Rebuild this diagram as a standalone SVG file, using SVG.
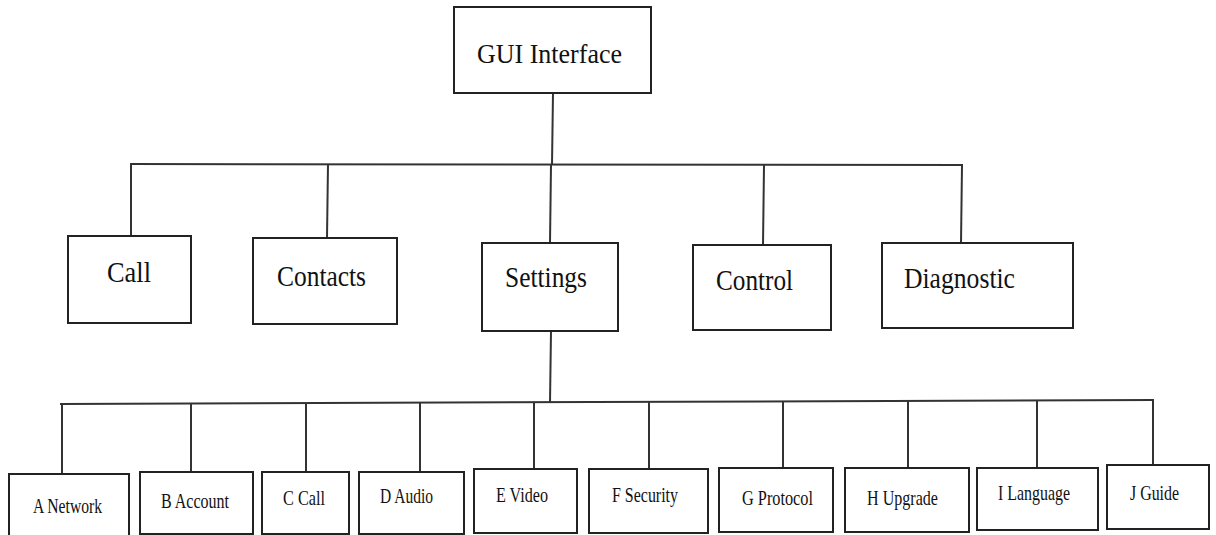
<svg xmlns="http://www.w3.org/2000/svg" width="1216" height="535" viewBox="0 0 1216 535">
<style>
.box{fill:#fff;stroke:#222;stroke-width:2}
.ln{stroke:#333;stroke-width:2;fill:none}
text{font-family:"Liberation Serif","Times New Roman",serif;fill:#111}
.t1{font-size:27px}
.t2{font-size:30px}
.t3{font-size:21px}
</style>
<rect width="1216" height="535" fill="#fff"/>
<g id="connectors">
<line class="ln" x1="553" y1="93" x2="552" y2="165"/>
<line class="ln" x1="130" y1="164" x2="963" y2="165"/>
<line class="ln" x1="131" y1="164" x2="131" y2="236"/>
<line class="ln" x1="328" y1="164" x2="327" y2="238"/>
<line class="ln" x1="551" y1="165" x2="550" y2="243"/>
<line class="ln" x1="764" y1="165" x2="763" y2="245"/>
<line class="ln" x1="962" y1="165" x2="961" y2="243"/>
<line class="ln" x1="551" y1="331" x2="550" y2="403"/>
<line class="ln" x1="60" y1="404" x2="1154" y2="400"/>
<line class="ln" x1="62" y1="404" x2="62" y2="474"/>
<line class="ln" x1="191" y1="404" x2="191" y2="472"/>
<line class="ln" x1="306" y1="403" x2="306" y2="472"/>
<line class="ln" x1="420" y1="403" x2="420" y2="472"/>
<line class="ln" x1="534" y1="402" x2="534" y2="469"/>
<line class="ln" x1="649" y1="402" x2="649" y2="469"/>
<line class="ln" x1="783" y1="401" x2="783" y2="468"/>
<line class="ln" x1="908" y1="401" x2="908" y2="468"/>
<line class="ln" x1="1037" y1="400" x2="1037" y2="468"/>
<line class="ln" x1="1153" y1="400" x2="1153" y2="465"/>
</g>
<g id="gui"><rect class="box" x="454" y="7" width="197" height="86"/><text class="t1" x="477" y="63" textLength="145" lengthAdjust="spacingAndGlyphs">GUI Interface</text></g>
<g id="call"><rect class="box" x="68" y="236" width="123" height="87"/><text class="t2" x="107" y="282" textLength="44" lengthAdjust="spacingAndGlyphs">Call</text></g>
<g id="contacts"><rect class="box" x="253" y="238" width="144" height="86"/><text class="t2" x="277" y="286" textLength="89" lengthAdjust="spacingAndGlyphs">Contacts</text></g>
<g id="settings"><rect class="box" x="482" y="243" width="136" height="88"/><text class="t2" x="505" y="287" textLength="82" lengthAdjust="spacingAndGlyphs">Settings</text></g>
<g id="control"><rect class="box" x="693" y="245" width="138" height="85"/><text class="t2" x="716" y="290" textLength="77" lengthAdjust="spacingAndGlyphs">Control</text></g>
<g id="diagnostic"><rect class="box" x="882" y="243" width="191" height="85"/><text class="t2" x="904" y="288" textLength="111" lengthAdjust="spacingAndGlyphs">Diagnostic</text></g>
<g id="a"><rect class="box" x="9" y="474" width="120" height="62"/><text class="t3" x="33" y="513" textLength="69" lengthAdjust="spacingAndGlyphs">A Network</text></g>
<g id="b"><rect class="box" x="140" y="472" width="113" height="62"/><text class="t3" x="161" y="508" textLength="68" lengthAdjust="spacingAndGlyphs">B Account</text></g>
<g id="c"><rect class="box" x="262" y="472" width="87" height="62"/><text class="t3" x="283" y="505" textLength="42" lengthAdjust="spacingAndGlyphs">C Call</text></g>
<g id="d"><rect class="box" x="359" y="472" width="105" height="62"/><text class="t3" x="380" y="503" textLength="53" lengthAdjust="spacingAndGlyphs">D Audio</text></g>
<g id="e"><rect class="box" x="474" y="469" width="103" height="64"/><text class="t3" x="496" y="502" textLength="52" lengthAdjust="spacingAndGlyphs">E Video</text></g>
<g id="f"><rect class="box" x="589" y="469" width="119" height="64"/><text class="t3" x="612" y="502" textLength="66" lengthAdjust="spacingAndGlyphs">F Security</text></g>
<g id="g"><rect class="box" x="719" y="468" width="114" height="64"/><text class="t3" x="742" y="505" textLength="71" lengthAdjust="spacingAndGlyphs">G Protocol</text></g>
<g id="h"><rect class="box" x="845" y="468" width="124" height="64"/><text class="t3" x="867" y="505" textLength="71" lengthAdjust="spacingAndGlyphs">H Upgrade</text></g>
<g id="i"><rect class="box" x="977" y="468" width="121" height="62"/><text class="t3" x="998" y="500" textLength="72" lengthAdjust="spacingAndGlyphs">I Language</text></g>
<g id="j"><rect class="box" x="1107" y="465" width="102" height="64"/><text class="t3" x="1130" y="500" textLength="49" lengthAdjust="spacingAndGlyphs">J Guide</text></g>
</svg>
